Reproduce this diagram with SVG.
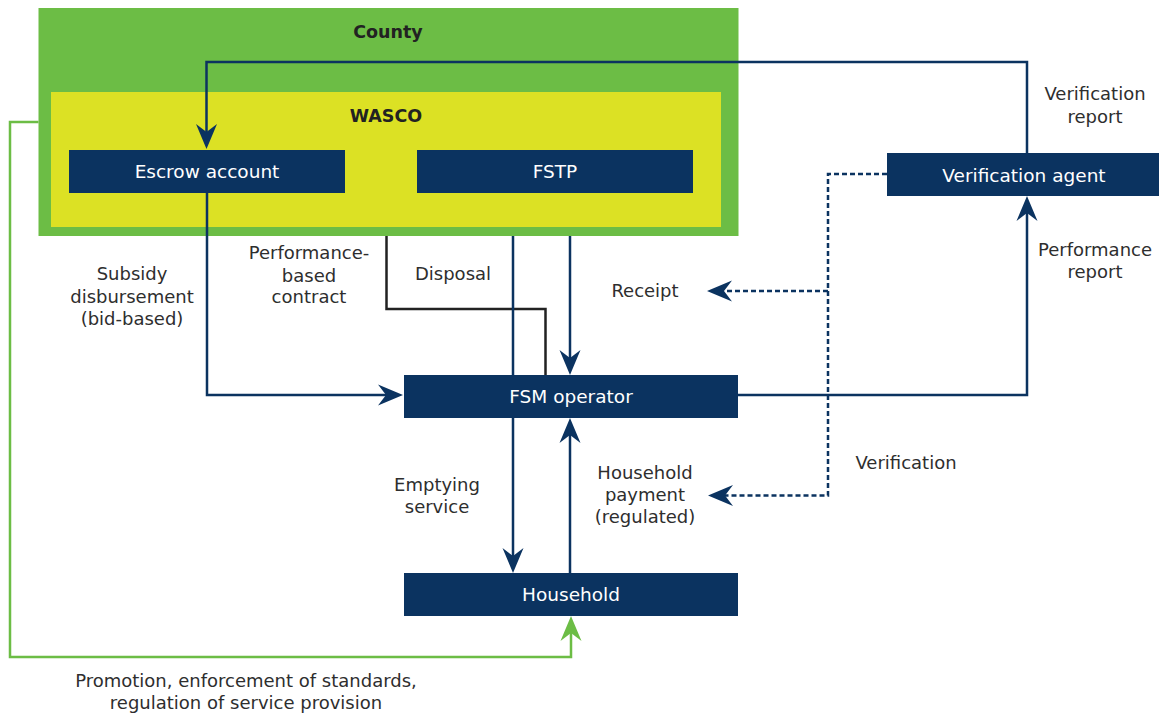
<svg xmlns="http://www.w3.org/2000/svg" width="1159" height="713" viewBox="0 0 1159 713">
  <style>
    .box { fill: #0b3360; }
    .box-text { font-family: "DejaVu Sans", "Liberation Sans", sans-serif; font-size: 18.5px; fill: #ffffff; text-anchor: middle; }
    .group-title { font-family: "DejaVu Sans", "Liberation Sans", sans-serif; font-size: 17.5px; font-weight: bold; fill: #222222; text-anchor: middle; }
    .label { font-family: "DejaVu Sans", "Liberation Sans", sans-serif; font-size: 18px; fill: #2e2e2e; text-anchor: middle; }
    .flow { fill: none; stroke: #0b3360; stroke-width: 2.5; }
    .flow-black { fill: none; stroke: #222222; stroke-width: 2.5; }
    .flow-dotted { fill: none; stroke: #0b3360; stroke-width: 2.5; stroke-dasharray: 5 3; }
    .flow-green { fill: none; stroke: #6cbd45; stroke-width: 2.5; }
  </style>
  <defs>
    <marker id="arrow-navy" viewBox="-16 -11 27 22" markerWidth="27" markerHeight="22" refX="0" refY="0" orient="auto" markerUnits="userSpaceOnUse">
      <path d="M10,0 L-15,-10.5 L-7,0 L-15,10.5 Z" fill="#0b3360"/>
    </marker>
    <marker id="arrow-green" viewBox="-16 -11 27 22" markerWidth="27" markerHeight="22" refX="0" refY="0" orient="auto" markerUnits="userSpaceOnUse">
      <path d="M10,0 L-15,-10.5 L-7,0 L-15,10.5 Z" fill="#6cbd45"/>
    </marker>
  </defs>

  <rect width="1159" height="713" fill="#ffffff"/>

  <!-- Containers -->
  <g id="county">
    <rect x="38.5" y="8" width="700" height="228" fill="#6cbd45"/>
    <text class="group-title" x="388" y="38">County</text>
  </g>
  <g id="wasco">
    <rect x="51" y="92" width="670" height="135" fill="#dce124"/>
    <text class="group-title" x="386" y="122">WASCO</text>
  </g>

  <!-- Connectors -->
  <g id="connectors">
    <path class="flow" d="M1027,153 V62 H206.5 V139" marker-end="url(#arrow-navy)"/>
    <path class="flow" d="M207,193 V395 H393" marker-end="url(#arrow-navy)"/>
    <path class="flow-black" d="M386.5,236 V309 H545.5 V375"/>
    <path class="flow" d="M513,236 V563" marker-end="url(#arrow-navy)"/>
    <path class="flow" d="M570,236 V365" marker-end="url(#arrow-navy)"/>
    <path class="flow" d="M570,573 V428" marker-end="url(#arrow-navy)"/>
    <path class="flow" d="M738,395 H1027 V206" marker-end="url(#arrow-navy)"/>
    <path class="flow-dotted" d="M887,174 H828 V495.5 H718" marker-end="url(#arrow-navy)"/>
    <path class="flow-dotted" d="M828,291 H717" marker-end="url(#arrow-navy)"/>
    <path class="flow-green" d="M38.5,122 H10 V657 H571 V626" marker-end="url(#arrow-green)"/>
  </g>

  <!-- Nodes -->
  <g id="escrow-account">
    <rect class="box" x="69" y="150" width="276" height="43"/>
    <text class="box-text" x="207" y="178">Escrow account</text>
  </g>
  <g id="fstp">
    <rect class="box" x="417" y="150" width="276" height="43"/>
    <text class="box-text" x="555" y="178">FSTP</text>
  </g>
  <g id="verification-agent">
    <rect class="box" x="887" y="153" width="272" height="43"/>
    <text class="box-text" x="1024" y="182">Verification agent</text>
  </g>
  <g id="fsm-operator">
    <rect class="box" x="404" y="375" width="334" height="43"/>
    <text class="box-text" x="571" y="403">FSM operator</text>
  </g>
  <g id="household">
    <rect class="box" x="404" y="573" width="334" height="43"/>
    <text class="box-text" x="571" y="601">Household</text>
  </g>

  <!-- Flow labels -->
  <g id="labels">
    <text class="label" x="1095" y="100">Verification</text>
    <text class="label" x="1095" y="123">report</text>
    <text class="label" x="132" y="280">Subsidy</text>
    <text class="label" x="132" y="303">disbursement</text>
    <text class="label" x="132" y="325">(bid-based)</text>
    <text class="label" x="309" y="259">Performance-</text>
    <text class="label" x="309" y="282">based</text>
    <text class="label" x="309" y="303">contract</text>
    <text class="label" x="453" y="280">Disposal</text>
    <text class="label" x="645" y="297">Receipt</text>
    <text class="label" x="1095" y="256">Performance</text>
    <text class="label" x="1095" y="278">report</text>
    <text class="label" x="437" y="491">Emptying</text>
    <text class="label" x="437" y="513">service</text>
    <text class="label" x="645" y="479">Household</text>
    <text class="label" x="645" y="501">payment</text>
    <text class="label" x="645" y="523">(regulated)</text>
    <text class="label" x="906" y="469">Verification</text>
    <text class="label" x="246" y="687">Promotion, enforcement of standards,</text>
    <text class="label" x="246" y="709">regulation of service provision</text>
  </g>
</svg>
